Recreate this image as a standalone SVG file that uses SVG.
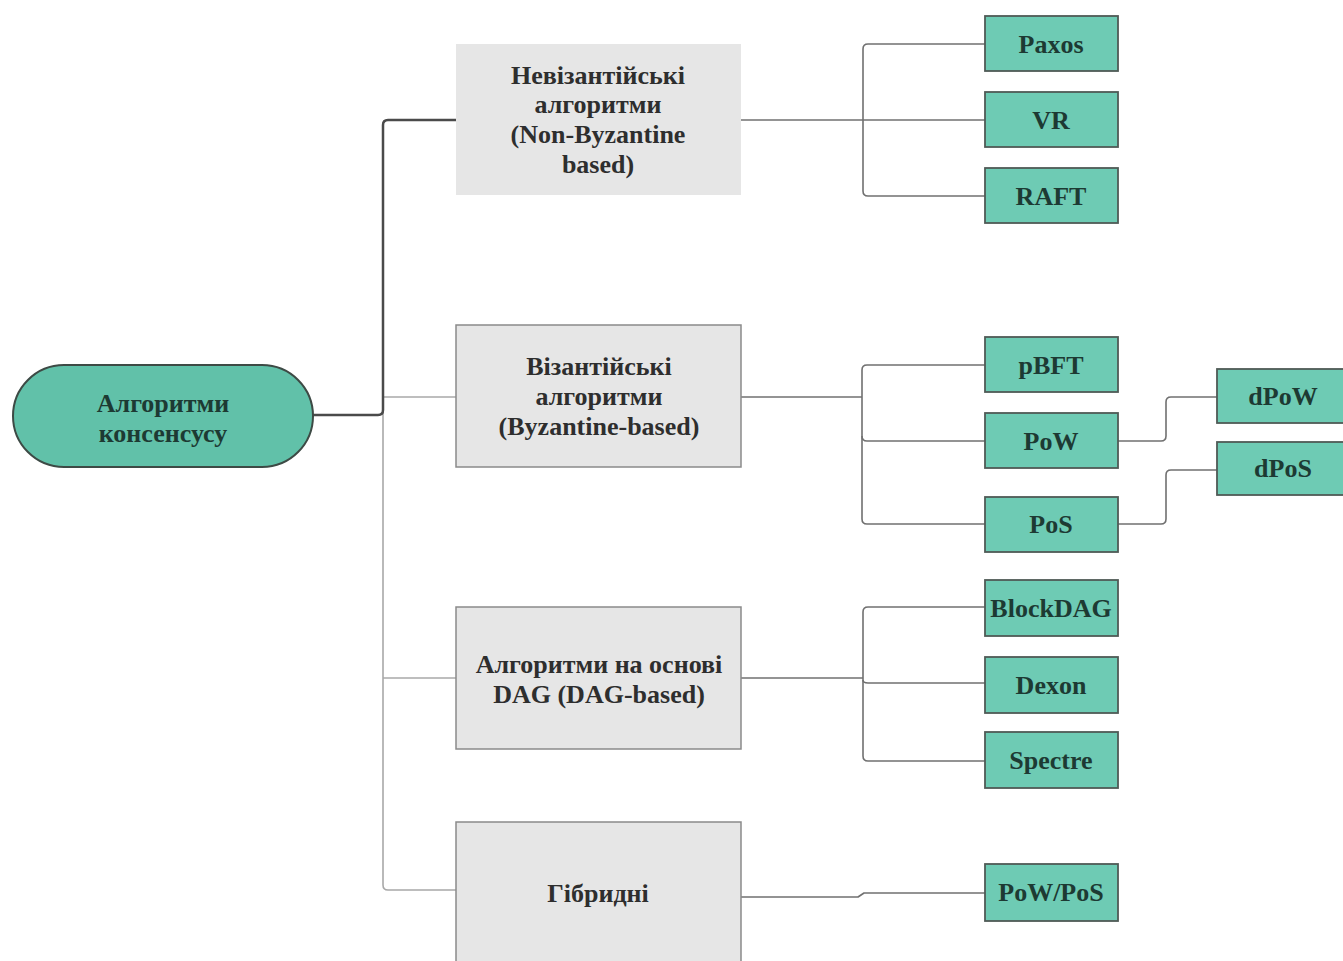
<svg xmlns="http://www.w3.org/2000/svg" width="1343" height="961" viewBox="0 0 1343 961">
<style>
.cat{fill:#e6e6e6;stroke:#8a8a8a;stroke-width:1.5}
.leaf{fill:#6ecbb4;stroke:#4f5a56;stroke-width:1.8}
.root{fill:#61c1a9;stroke:#3d4a45;stroke-width:2}
.t{font-family:'Liberation Serif','DejaVu Serif',serif;font-weight:bold;font-size:26px;text-anchor:middle;dominant-baseline:central}
.tc{fill:#2e2e2e}
.tl{fill:#1d3a33}
.c{fill:none;stroke-linejoin:round}
.dark{stroke:#4a4a4a;stroke-width:2.5}
.light{stroke:#a8a8a8;stroke-width:1.6}
.mid{stroke:#707070;stroke-width:1.6}
</style>
<rect width="1343" height="961" fill="#ffffff"/>
<g id="connectors">
<path class="c light" d="M383,412 V885 Q383,890 388,890 H456"/>
<path class="c light" d="M383,397 H456"/>
<path class="c light" d="M383,678 H456"/>
<path class="c dark" d="M313,415 H378 Q383,415 383,410 V125 Q383,120 388,120 H456"/>
<path class="c mid" d="M741,120 H985"/>
<path class="c mid" d="M985,44 H868 Q863,44 863,49 V191 Q863,196 868,196 H985"/>
<path class="c mid" d="M741,397 H862"/>
<path class="c mid" d="M985,365 H867 Q862,365 862,370 V519 Q862,524 867,524 H985"/>
<path class="c mid" d="M862,436 Q862,441 867,441 H985"/>
<path class="c mid" d="M1118,441 H1161 Q1166,441 1166,436 V402 Q1166,397 1171,397 H1217"/>
<path class="c mid" d="M1118,524 H1161 Q1166,524 1166,519 V475 Q1166,470 1171,470 H1217"/>
<path class="c mid" d="M741,678 H863"/>
<path class="c mid" d="M985,607 H868 Q863,607 863,612 V756 Q863,761 868,761 H985"/>
<path class="c mid" d="M863,680 Q863,683 868,683 H985"/>
<path class="c mid" d="M741,897 H858 L864,893 H985"/>
</g>
<g id="root">
<rect class="root" x="13" y="365" width="300" height="102" rx="51"/>
<text class="t tl" x="163" y="403" font-family="Liberation Serif, DejaVu Serif, serif">Алгоритми</text>
<text class="t tl" x="163" y="433" font-family="Liberation Serif, DejaVu Serif, serif">консенсусу</text>
</g>
<g id="non-byzantine">
<rect x="456" y="44" width="285" height="151" fill="#e6e6e6"/>
<text class="t tc" x="598" y="75" font-family="Liberation Serif, DejaVu Serif, serif">Невізантійські</text>
<text class="t tc" x="598" y="104" font-family="Liberation Serif, DejaVu Serif, serif">алгоритми</text>
<text class="t tc" x="598" y="134" font-family="Liberation Serif, DejaVu Serif, serif">(Non-Byzantine</text>
<text class="t tc" x="598" y="164" font-family="Liberation Serif, DejaVu Serif, serif">based)</text>
</g>
<g id="byzantine">
<rect class="cat" x="456" y="325" width="285" height="142"/>
<text class="t tc" x="599" y="366" font-family="Liberation Serif, DejaVu Serif, serif">Візантійські</text>
<text class="t tc" x="599" y="396" font-family="Liberation Serif, DejaVu Serif, serif">алгоритми</text>
<text class="t tc" x="599" y="426" font-family="Liberation Serif, DejaVu Serif, serif">(Byzantine-based)</text>
</g>
<g id="dag">
<rect class="cat" x="456" y="607" width="285" height="142"/>
<text class="t tc" x="599" y="664" font-family="Liberation Serif, DejaVu Serif, serif">Алгоритми на основі</text>
<text class="t tc" x="599" y="694" font-family="Liberation Serif, DejaVu Serif, serif">DAG (DAG-based)</text>
</g>
<g id="hybrid">
<rect class="cat" x="456" y="822" width="285" height="150"/>
<text class="t tc" x="598" y="893" font-family="Liberation Serif, DejaVu Serif, serif">Гібридні</text>
</g>
<g id="paxos"><rect class="leaf" x="985" y="16" width="133" height="55"/><text class="t tl" x="1051" y="44" font-family="Liberation Serif, DejaVu Serif, serif">Paxos</text></g>
<g id="vr"><rect class="leaf" x="985" y="92" width="133" height="55"/><text class="t tl" x="1051" y="120" font-family="Liberation Serif, DejaVu Serif, serif">VR</text></g>
<g id="raft"><rect class="leaf" x="985" y="168" width="133" height="55"/><text class="t tl" x="1051" y="196" font-family="Liberation Serif, DejaVu Serif, serif">RAFT</text></g>
<g id="pbft"><rect class="leaf" x="985" y="337" width="133" height="55"/><text class="t tl" x="1051" y="365" font-family="Liberation Serif, DejaVu Serif, serif">pBFT</text></g>
<g id="pow"><rect class="leaf" x="985" y="413" width="133" height="55"/><text class="t tl" x="1051" y="441" font-family="Liberation Serif, DejaVu Serif, serif">PoW</text></g>
<g id="pos"><rect class="leaf" x="985" y="497" width="133" height="55"/><text class="t tl" x="1051" y="524" font-family="Liberation Serif, DejaVu Serif, serif">PoS</text></g>
<g id="dpow"><rect class="leaf" x="1217" y="369" width="130" height="54"/><text class="t tl" x="1283" y="396" font-family="Liberation Serif, DejaVu Serif, serif">dPoW</text></g>
<g id="dpos"><rect class="leaf" x="1217" y="442" width="130" height="53"/><text class="t tl" x="1283" y="468" font-family="Liberation Serif, DejaVu Serif, serif">dPoS</text></g>
<g id="blockdag"><rect class="leaf" x="985" y="580" width="133" height="56"/><text class="t tl" x="1051" y="608" font-family="Liberation Serif, DejaVu Serif, serif">BlockDAG</text></g>
<g id="dexon"><rect class="leaf" x="985" y="657" width="133" height="56"/><text class="t tl" x="1051" y="685" font-family="Liberation Serif, DejaVu Serif, serif">Dexon</text></g>
<g id="spectre"><rect class="leaf" x="985" y="732" width="133" height="56"/><text class="t tl" x="1051" y="760" font-family="Liberation Serif, DejaVu Serif, serif">Spectre</text></g>
<g id="powpos"><rect class="leaf" x="985" y="864" width="133" height="57"/><text class="t tl" x="1051" y="892" font-family="Liberation Serif, DejaVu Serif, serif">PoW/PoS</text></g>
</svg>
